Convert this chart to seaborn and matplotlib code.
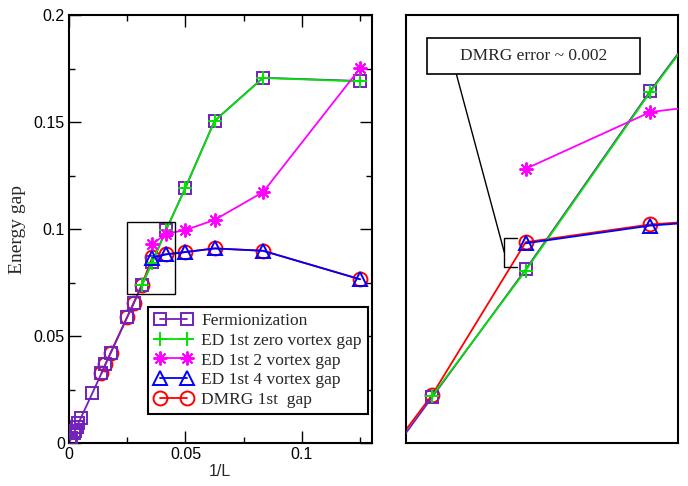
import numpy as np
import pandas as pd
import matplotlib
matplotlib.use("Agg")
import matplotlib.pyplot as plt
from matplotlib.patches import Rectangle
from matplotlib.lines import Line2D
from matplotlib.ticker import MultipleLocator
import seaborn as sns

# ---------------- data (x = 1/L) ----------------
ferm_L = [8, 12, 16, 20, 24, 28, 32, 36, 40, 56, 64, 72, 100, 200, 250, 300, 400, 500, 1000, 2000]
ferm_gap = [0.1692, 0.1707, 0.1506, 0.1194, 0.0996, 0.0845, 0.0737, 0.0653, 0.0589, 0.0421,
            0.0368, 0.0326, 0.0234, 0.0117, 0.0094, 0.0078, 0.0059, 0.0047, 0.0024, 0.0012]

ed0_L = [8, 12, 16, 20, 24, 28, 32]
ed0_gap = [0.1690, 0.1706, 0.1505, 0.1193, 0.0995, 0.0844, 0.0738]

ed2_L = [8, 12, 16, 20, 24, 28]
ed2_gap = [0.1751, 0.1173, 0.1043, 0.0996, 0.0978, 0.0930]

ed4_L = [8, 12, 16, 20, 24, 28]
ed4_gap = [0.0766, 0.0899, 0.0910, 0.0893, 0.0882, 0.0867]

dmrg_L = [8, 12, 16, 20, 24, 28, 32, 36, 40, 56, 64, 72]
dmrg_gap = [0.0766, 0.0899, 0.0910, 0.0893, 0.0883, 0.0868, 0.0739, 0.0657, 0.0591,
            0.0423, 0.0370, 0.0327]

series = [
    ("Fermionization", ferm_L, ferm_gap),
    ("ED 1st zero vortex gap", ed0_L, ed0_gap),
    ("ED 1st 2 vortex gap", ed2_L, ed2_gap),
    ("ED 1st 4 vortex gap", ed4_L, ed4_gap),
    ("DMRG 1st  gap", dmrg_L, dmrg_gap),
]

styles = {
    "Fermionization": dict(color="#7221bc", marker="s", ms=8, z=3),
    "ED 1st zero vortex gap": dict(color="#00e400", marker="+", ms=10, z=4),
    "ED 1st 2 vortex gap": dict(color="#ff00ff", marker=(8, 2, 0), ms=10, z=5),
    "ED 1st 4 vortex gap": dict(color="#0000ff", marker="^", ms=9.5, z=6),
    "DMRG 1st  gap": dict(color="#ff0000", marker="o", ms=10, z=2),
}

frames = []
for name, L, g in series:
    frames.append(pd.DataFrame({"invL": 1.0 / np.array(L, dtype=float), "gap": g, "series": name}))
df = pd.concat(frames, ignore_index=True)

sns.set_theme(style="white")
plt.rcParams["font.family"] = ["Liberation Sans", "DejaVu Sans"]

fig = plt.figure(figsize=(6.88, 4.86), dpi=100)
ax = fig.add_axes([0.1004, 0.0879, 0.4398, 0.8812])
ax2 = fig.add_axes([0.5901, 0.0879, 0.3958, 0.8812])


def draw(a, with_label):
    for name, _, _ in series:
        st = styles[name]
        sub = df[df["series"] == name]
        sns.lineplot(data=sub, x="invL", y="gap", ax=a, estimator=None, sort=True,
                     color=st["color"], marker=st["marker"], markersize=st["ms"],
                     markerfacecolor="none", markeredgecolor=st["color"],
                     markeredgewidth=1.4, linewidth=1.3, zorder=st["z"],
                     label=name if with_label else None, legend=False)


draw(ax, True)
draw(ax2, False)

# ---- left panel ----
ax.set_xlim(0, 0.13)
ax.set_ylim(0, 0.2)
ax.xaxis.set_major_locator(MultipleLocator(0.05))
ax.xaxis.set_minor_locator(MultipleLocator(0.025))
ax.yaxis.set_major_locator(MultipleLocator(0.05))
ax.yaxis.set_minor_locator(MultipleLocator(0.025))
ax.set_xticks([0, 0.05, 0.1])
ax.set_xticklabels(["0", "0.05", "0.1"])
ax.set_yticks([0, 0.05, 0.1, 0.15, 0.2])
ax.set_yticklabels(["0", "0.05", "0.1", "0.15", "0.2"])
ax.tick_params(which="both", direction="in", top=True, right=True, bottom=True, left=True,
               labelsize=11.5, colors="black", pad=3)
ax.tick_params(which="major", length=8.5, width=1.0)
ax.tick_params(which="minor", length=4.3, width=1.0)
for sp in ax.spines.values():
    sp.set_color("black")
    sp.set_linewidth(1.5)
ax.set_xlabel("1/L", fontsize=11.5, labelpad=1)
ax.set_ylabel("Energy gap", fontsize=14, family=["Liberation Serif", "DejaVu Serif"])
ax.yaxis.set_label_coords(-0.142, 0.5)

ax.add_patch(Rectangle((0.0251, 0.0697), 0.0206, 0.0336, fill=False, edgecolor="black",
                       linewidth=1.0, zorder=10))

leg = ax.legend(loc="upper left", bbox_to_anchor=(0.262, 0.318), numpoints=2,
                handlelength=2.2, handletextpad=0.5, labelspacing=0.2, borderpad=0.35,
                borderaxespad=0, fancybox=False, framealpha=1,
                prop={"family": ["Liberation Serif", "DejaVu Serif"], "size": 12.5})
leg.get_frame().set_edgecolor("black")
leg.get_frame().set_linewidth(1.5)
leg.set_zorder(20)

# ---- right panel ----
ax2.set_xlim(0.0300, 0.0430)
ax2.set_ylim(0.0698, 0.1060)
ax2.set_xticks([])
ax2.set_yticks([])
ax2.set_xlabel("")
ax2.set_ylabel("")
for sp in ax2.spines.values():
    sp.set_color("black")
    sp.set_linewidth(1.5)

ax2.add_patch(Rectangle((0.076, 0.862), 0.783, 0.085, transform=ax2.transAxes,
                        facecolor="white", edgecolor="black", linewidth=1.2, zorder=10))
ax2.text(0.468, 0.905, "DMRG error ~ 0.002", transform=ax2.transAxes, ha="center",
         va="center", fontsize=12.5, family=["Liberation Serif", "DejaVu Serif"], zorder=11)
ax2.add_line(Line2D([0.185, 0.361], [0.862, 0.446], transform=ax2.transAxes,
                    color="black", linewidth=1.0, zorder=9))
ax2.add_line(Line2D([0.407, 0.361, 0.361, 0.407], [0.479, 0.479, 0.412, 0.412],
                    transform=ax2.transAxes, color="black", linewidth=1.0, zorder=9))

fig.savefig("out.png", dpi=100)
